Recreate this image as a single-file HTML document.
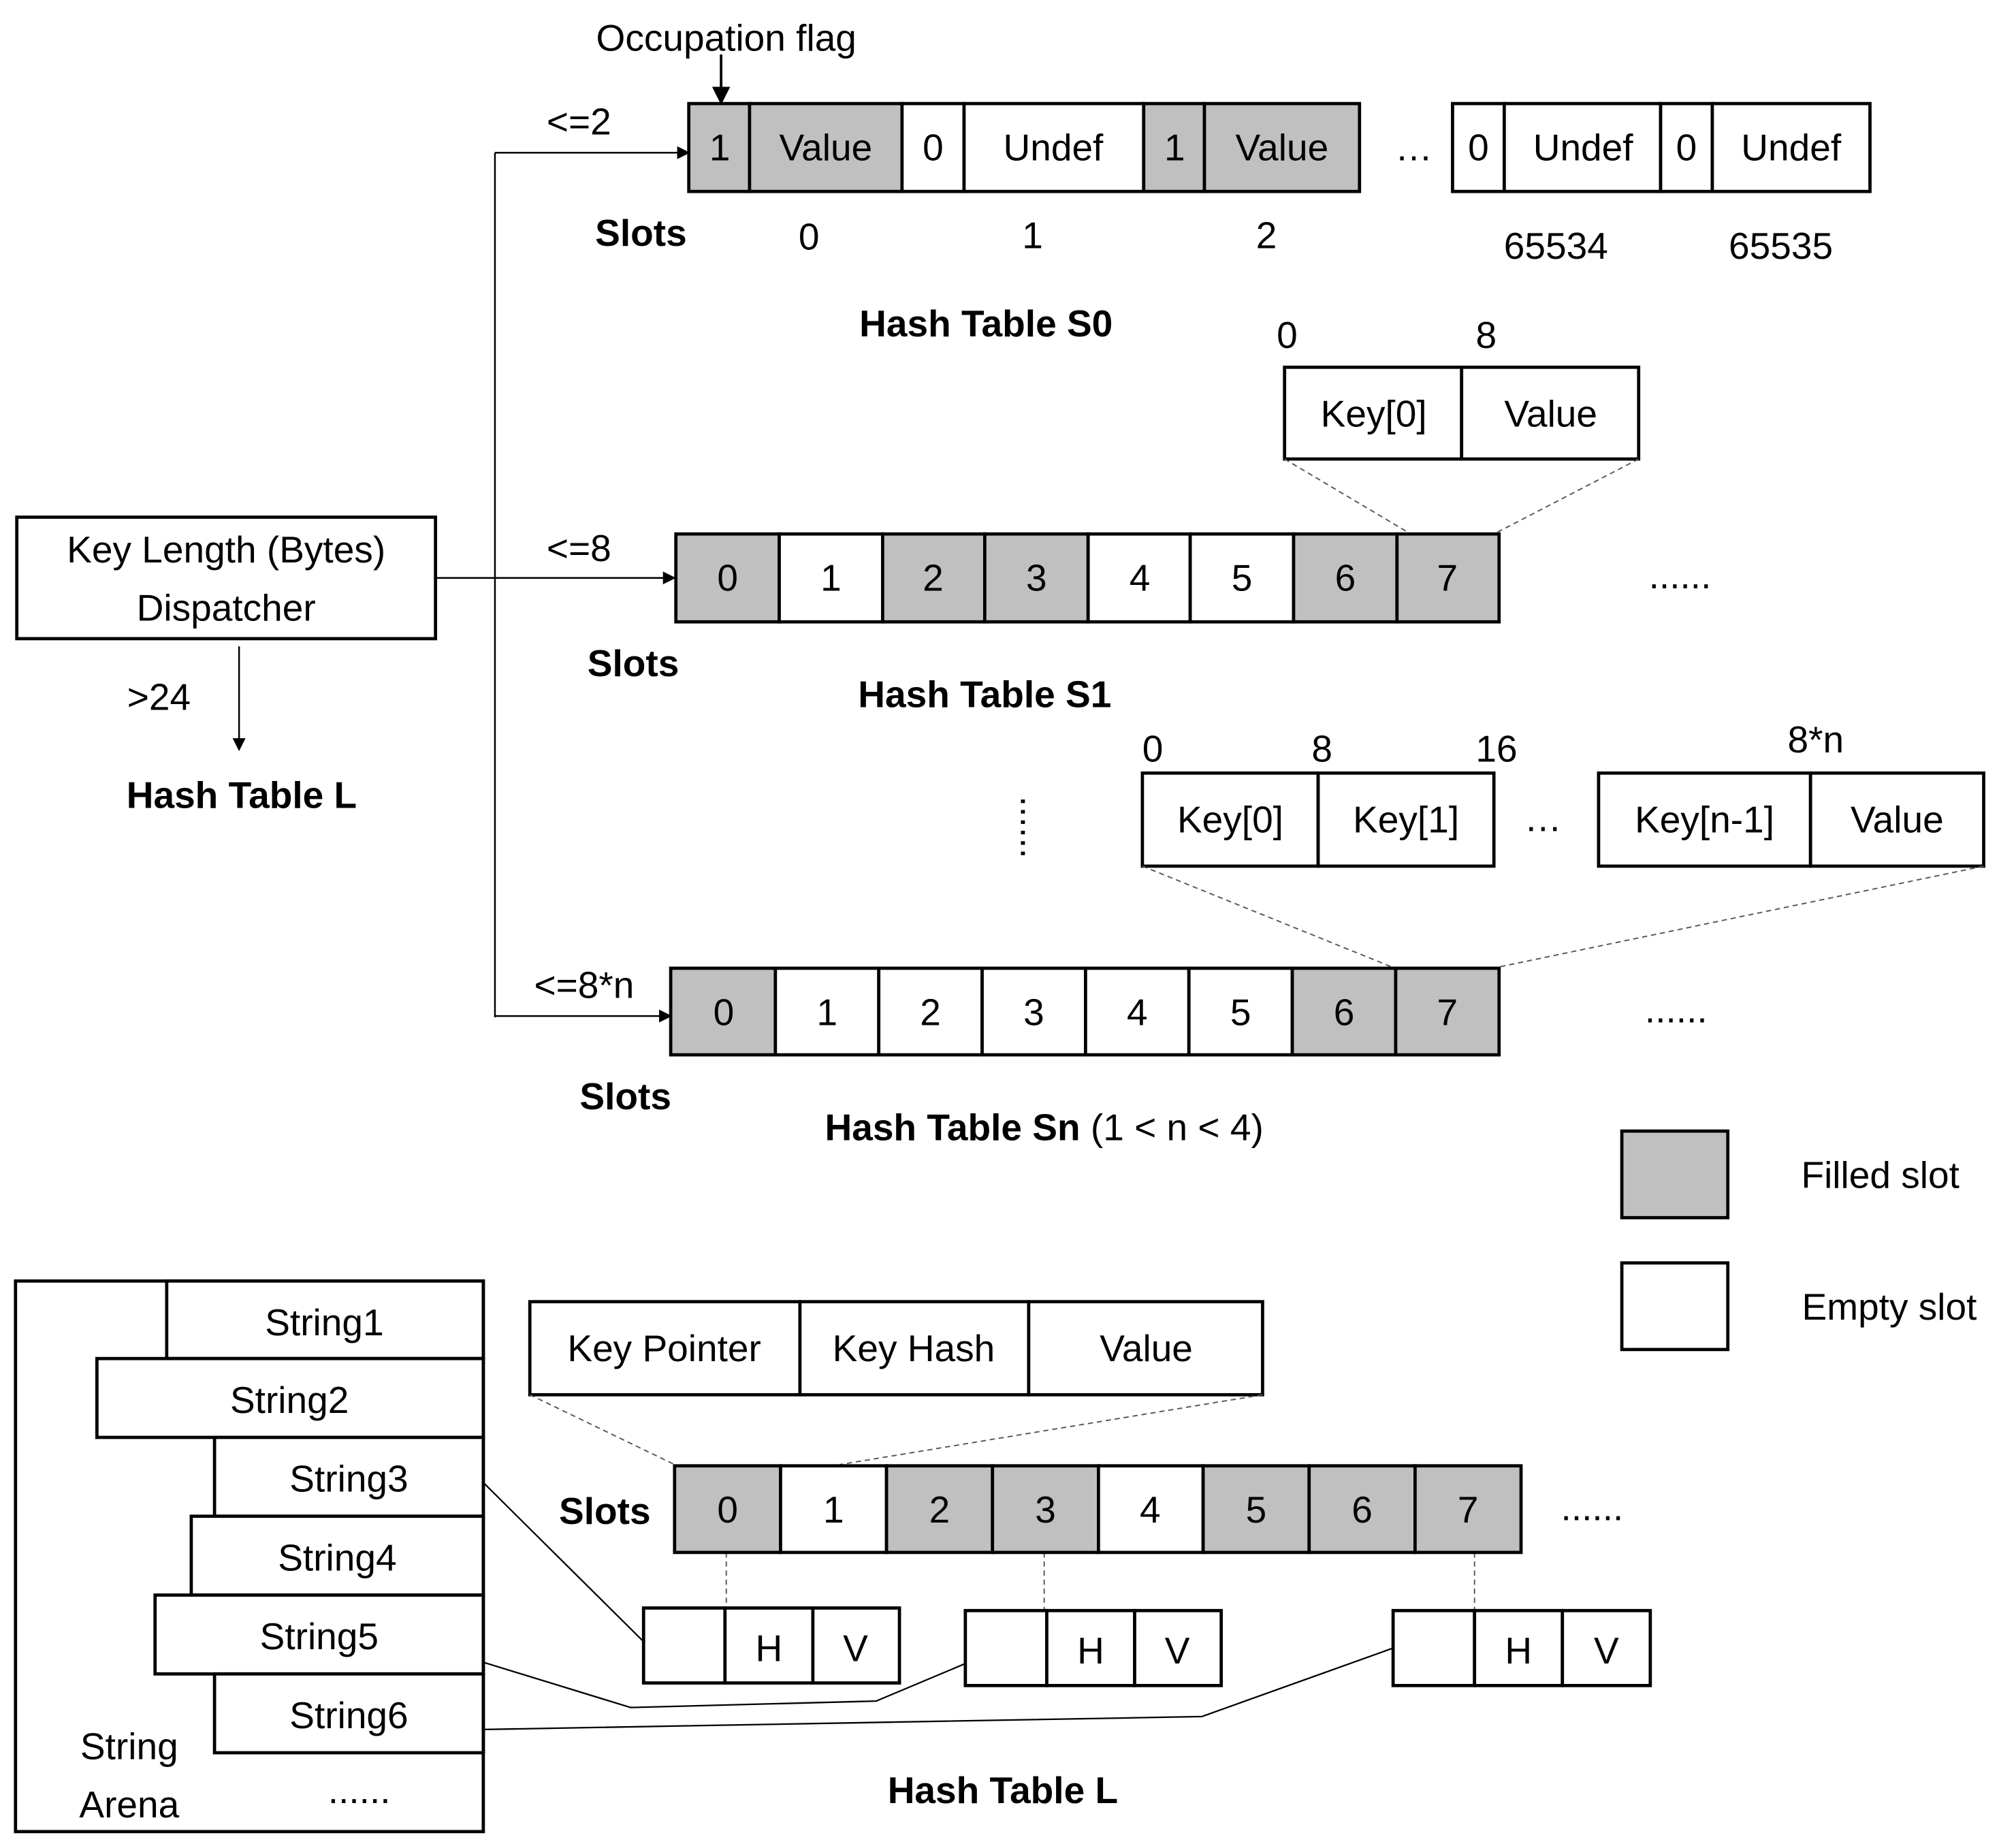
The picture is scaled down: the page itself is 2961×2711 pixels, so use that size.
<!DOCTYPE html>
<html><head><meta charset="utf-8"><style>html,body{margin:0;padding:0;background:#fff}svg{display:block}</style></head>
<body>
<svg xmlns="http://www.w3.org/2000/svg" width="2961" height="2711" viewBox="0 0 1560 1428">
<defs><marker id="a" markerWidth="10" markerHeight="10" refX="9" refY="5" orient="auto" markerUnits="userSpaceOnUse" viewBox="0 0 10 10"><path d="M0,0 L10,5 L0,10 z" fill="#000"/></marker>
<marker id="b" markerWidth="14" markerHeight="14" refX="13" refY="7" orient="auto" markerUnits="userSpaceOnUse" viewBox="0 0 14 14"><path d="M0,0 L14,7 L0,14 z" fill="#000"/></marker></defs>
<g font-family="Liberation Sans, sans-serif" font-size="29" text-anchor="middle" dominant-baseline="central" fill="#000">
<!-- S0 -->
<g stroke="#000" stroke-width="2.5">
<rect x="533" y="80" width="47" height="68" fill="#c0c0c0"/><rect x="580" y="80" width="118" height="68" fill="#c0c0c0"/>
<rect x="698" y="80" width="48" height="68" fill="#fff"/><rect x="746" y="80" width="139" height="68" fill="#fff"/>
<rect x="885" y="80" width="47" height="68" fill="#c0c0c0"/><rect x="932" y="80" width="120" height="68" fill="#c0c0c0"/>
<rect x="1124" y="80" width="40" height="68" fill="#fff"/><rect x="1164" y="80" width="121" height="68" fill="#fff"/>
<rect x="1285" y="80" width="40" height="68" fill="#fff"/><rect x="1325" y="80" width="122" height="68" fill="#fff"/>
</g>
<text x="557" y="114">1</text><text x="639" y="114">Value</text><text x="722" y="114">0</text><text x="815" y="114">Undef</text>
<text x="909" y="114">1</text><text x="992" y="114">Value</text><text x="1094" y="114">…</text>
<text x="1144" y="114">0</text><text x="1225" y="114">Undef</text><text x="1305" y="114">0</text><text x="1386" y="114">Undef</text>
<text x="562" y="29">Occupation flag</text>
<line x1="558" y1="42" x2="558" y2="80" stroke="#000" stroke-width="2" marker-end="url(#b)"/>
<text x="496" y="180" font-weight="bold">Slots</text>
<text x="626" y="183">0</text><text x="799" y="182">1</text><text x="980" y="182">2</text>
<text x="1204" y="190">65534</text><text x="1378" y="190">65535</text>
<text x="763" y="250" font-weight="bold">Hash Table S0</text>
<!-- dispatcher -->
<rect x="13" y="400" width="324" height="94" fill="#fff" stroke="#000" stroke-width="2.5"/>
<text x="175" y="425">Key Length (Bytes)</text><text x="175" y="470">Dispatcher</text>
<g stroke="#000" stroke-width="1.3" fill="none">
<polyline points="337,447 383,447"/><line x1="383" y1="118" x2="383" y2="787"/>
<line x1="383" y1="118" x2="533" y2="118" marker-end="url(#a)"/>
<line x1="383" y1="447" x2="522" y2="447" marker-end="url(#a)"/>
<line x1="383" y1="786" x2="519" y2="786" marker-end="url(#a)"/>
<line x1="185" y1="500" x2="185" y2="580" marker-end="url(#a)"/>
</g>
<text x="448" y="94">&lt;=2</text><text x="448" y="424">&lt;=8</text><text x="452" y="762">&lt;=8*n</text>
<text x="123" y="539">&gt;24</text><text x="187" y="615" font-weight="bold">Hash Table L</text>
<!-- S1 key box -->
<g stroke="#000" stroke-width="2.5" fill="#fff"><rect x="994" y="284" width="137" height="71"/><rect x="1131" y="284" width="137" height="71"/></g>
<text x="1063" y="320">Key[0]</text><text x="1200" y="320">Value</text>
<text x="996" y="259">0</text><text x="1150" y="259">8</text>
<g stroke="#555" stroke-width="1" stroke-dasharray="4,3"><line x1="994" y1="355" x2="1090" y2="412"/><line x1="1268" y1="355" x2="1158" y2="412"/></g>
<!-- S1 row -->
<g stroke="#000" stroke-width="2.5">
<rect x="523" y="413" width="80" height="68" fill="#c0c0c0"/><rect x="603" y="413" width="80" height="68" fill="#fff"/>
<rect x="683" y="413" width="79" height="68" fill="#c0c0c0"/><rect x="762" y="413" width="80" height="68" fill="#c0c0c0"/>
<rect x="842" y="413" width="79" height="68" fill="#fff"/><rect x="921" y="413" width="80" height="68" fill="#fff"/>
<rect x="1001" y="413" width="80" height="68" fill="#c0c0c0"/><rect x="1081" y="413" width="79" height="68" fill="#c0c0c0"/>
</g>
<text x="563" y="447">0</text><text x="643" y="447">1</text><text x="722" y="447">2</text><text x="802" y="447">3</text><text x="882" y="447">4</text><text x="961" y="447">5</text><text x="1041" y="447">6</text><text x="1120" y="447">7</text>
<text x="1300" y="445">......</text>
<text x="490" y="513" font-weight="bold">Slots</text><text x="762" y="537" font-weight="bold">Hash Table S1</text>
<text x="790" y="630" transform="rotate(90 790 640)">......</text>
<!-- Sn key box -->
<g stroke="#000" stroke-width="2.5" fill="#fff"><rect x="884" y="598" width="136" height="72"/><rect x="1020" y="598" width="136" height="72"/>
<rect x="1237" y="598" width="164" height="72"/><rect x="1401" y="598" width="134" height="72"/></g>
<text x="952" y="634">Key[0]</text><text x="1088" y="634">Key[1]</text><text x="1194" y="633">…</text>
<text x="1319" y="634">Key[n-1]</text><text x="1468" y="634">Value</text>
<text x="892" y="579">0</text><text x="1023" y="579">8</text><text x="1158" y="579">16</text><text x="1405" y="572">8*n</text>
<g stroke="#555" stroke-width="1" stroke-dasharray="4,3"><line x1="884" y1="670" x2="1077" y2="748"/><line x1="1535" y1="670" x2="1160" y2="748"/></g>
<!-- Sn row -->
<g stroke="#000" stroke-width="2.5">
<rect x="519" y="749" width="81" height="67" fill="#c0c0c0"/><rect x="600" y="749" width="80" height="67" fill="#fff"/>
<rect x="680" y="749" width="80" height="67" fill="#fff"/><rect x="760" y="749" width="80" height="67" fill="#fff"/>
<rect x="840" y="749" width="80" height="67" fill="#fff"/><rect x="920" y="749" width="80" height="67" fill="#fff"/>
<rect x="1000" y="749" width="80" height="67" fill="#c0c0c0"/><rect x="1080" y="749" width="80" height="67" fill="#c0c0c0"/>
</g>
<text x="560" y="783">0</text><text x="640" y="783">1</text><text x="720" y="783">2</text><text x="800" y="783">3</text><text x="880" y="783">4</text><text x="960" y="783">5</text><text x="1040" y="783">6</text><text x="1120" y="783">7</text>
<text x="1297" y="781">......</text>
<text x="484" y="848" font-weight="bold">Slots</text>
<text x="808" y="872"><tspan font-weight="bold">Hash Table Sn</tspan> (1 &lt; n &lt; 4)</text>
<!-- legend -->
<rect x="1255" y="875" width="82" height="67" fill="#c0c0c0" stroke="#000" stroke-width="2.5"/>
<rect x="1255" y="977" width="82" height="67" fill="#fff" stroke="#000" stroke-width="2.5"/>
<text x="1455" y="909">Filled slot</text><text x="1462" y="1011">Empty slot</text>
<!-- string arena -->
<g stroke="#000" stroke-width="2.5" fill="#fff">
<rect x="12" y="991" width="362" height="426"/>
<rect x="129" y="991" width="245" height="60"/><rect x="75" y="1051" width="299" height="61"/>
<rect x="166" y="1112" width="208" height="61"/><rect x="148" y="1173" width="226" height="61"/>
<rect x="120" y="1234" width="254" height="61"/><rect x="166" y="1295" width="208" height="61"/>
</g>
<text x="251" y="1023">String1</text><text x="224" y="1083">String2</text><text x="270" y="1144">String3</text>
<text x="261" y="1205">String4</text><text x="247" y="1266">String5</text><text x="270" y="1327">String6</text>
<text x="278" y="1385">......</text><text x="100" y="1351">String</text><text x="100" y="1396">Arena</text>
<!-- Key pointer box -->
<g stroke="#000" stroke-width="2.5" fill="#fff"><rect x="410" y="1007" width="209" height="72"/><rect x="619" y="1007" width="177" height="72"/><rect x="796" y="1007" width="181" height="72"/></g>
<text x="514" y="1043">Key Pointer</text><text x="707" y="1043">Key Hash</text><text x="887" y="1043">Value</text>
<g stroke="#555" stroke-width="1" stroke-dasharray="4,3"><line x1="410" y1="1079" x2="522" y2="1133"/><line x1="977" y1="1079" x2="650" y2="1133"/>
<line x1="562" y1="1201" x2="562" y2="1244"/><line x1="808" y1="1201" x2="808" y2="1246"/><line x1="1141" y1="1201" x2="1141" y2="1246"/></g>
<!-- L row -->
<g stroke="#000" stroke-width="2.5">
<rect x="522" y="1134" width="82" height="67" fill="#c0c0c0"/><rect x="604" y="1134" width="82" height="67" fill="#fff"/>
<rect x="686" y="1134" width="82" height="67" fill="#c0c0c0"/><rect x="768" y="1134" width="82" height="67" fill="#c0c0c0"/>
<rect x="850" y="1134" width="81" height="67" fill="#fff"/><rect x="931" y="1134" width="82" height="67" fill="#c0c0c0"/>
<rect x="1013" y="1134" width="82" height="67" fill="#c0c0c0"/><rect x="1095" y="1134" width="82" height="67" fill="#c0c0c0"/>
</g>
<text x="563" y="1168">0</text><text x="645" y="1168">1</text><text x="727" y="1168">2</text><text x="809" y="1168">3</text><text x="890" y="1168">4</text><text x="972" y="1168">5</text><text x="1054" y="1168">6</text><text x="1136" y="1168">7</text>
<text x="1232" y="1166">......</text><text x="468" y="1169" font-weight="bold">Slots</text>
<!-- HV boxes -->
<g stroke="#000" stroke-width="2.5" fill="#fff">
<rect x="498" y="1244" width="63" height="58"/><rect x="561" y="1244" width="68" height="58"/><rect x="629" y="1244" width="67" height="58"/>
<rect x="747" y="1246" width="63" height="58"/><rect x="810" y="1246" width="68" height="58"/><rect x="878" y="1246" width="67" height="58"/>
<rect x="1078" y="1246" width="63" height="58"/><rect x="1141" y="1246" width="68" height="58"/><rect x="1209" y="1246" width="68" height="58"/>
</g>
<text x="595" y="1275">H</text><text x="662" y="1275">V</text><text x="844" y="1277">H</text><text x="911" y="1277">V</text><text x="1175" y="1277">H</text><text x="1243" y="1277">V</text>
<g stroke="#000" stroke-width="1.2" fill="none">
<polyline points="374,1147 498,1270"/><polyline points="374,1286 488,1321 678,1316 747,1287"/><polyline points="374,1338 930,1328 1078,1275"/>
</g>
<text x="776" y="1385" font-weight="bold">Hash Table L</text>
</g>
</svg>
</body></html>
